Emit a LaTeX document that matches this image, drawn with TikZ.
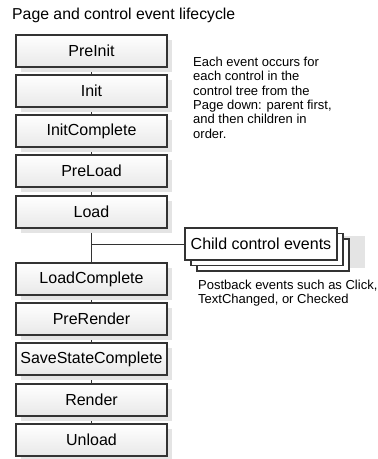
\documentclass[tikz,border=0pt]{standalone}
\usepackage{fontspec}
\setmainfont{Liberation Sans}
\usetikzlibrary{positioning,shadows,backgrounds}

\definecolor{boxline}{HTML}{333333}
\definecolor{shadowgray}{HTML}{E4E4E4}

\begin{document}
\begin{tikzpicture}[x=1pt,y=-1pt,
    evbox/.style={draw=boxline, line width=1.1pt, top color=white, bottom color=gray!18,
        minimum width=151pt, minimum height=32pt, inner sep=0pt, outer sep=0pt,
        font=\fontsize{16}{18}\selectfont,
        drop shadow={shadow xshift=5pt, shadow yshift=-5pt, fill=shadowgray, opacity=1}},
    childbox/.style={draw=boxline, line width=1.1pt, fill=white,
        minimum width=152pt, minimum height=32pt, inner sep=0pt, outer sep=0pt,
        font=\fontsize{16}{18}\selectfont,
        drop shadow={shadow xshift=28pt, shadow yshift=-8pt, fill=shadowgray, opacity=1},
        copy shadow={shadow xshift=12pt, shadow yshift=-11pt, fill=white, draw=boxline, line width=1.1pt},
        copy shadow={shadow xshift=6pt, shadow yshift=-5.5pt, fill=white, draw=boxline, line width=1.1pt}},
    link/.style={draw=boxline, line width=0.9pt},
    note/.style={align=left, inner sep=0pt, anchor=north west, font=\fontsize{13}{14.3}\selectfont}]

    \useasboundingbox (0,0) rectangle (378,459);

    % Title
    \node[anchor=base west, inner sep=0pt, font=\fontsize{15.8}{18}\selectfont] (title) at (12,19.5) {Page and control event lifecycle};

    % Page events
    \node[evbox] (preinit) at (91.5,51) {PreInit};
    \node[evbox, below=8pt of preinit] (init) {Init};
    \node[evbox, below=8pt of init] (initcomplete) {InitComplete};
    \node[evbox, below=8pt of initcomplete] (preload) {PreLoad};
    \node[evbox, below=9pt of preload] (load) {Load};
    \node[evbox, below=35pt of load] (loadcomplete) {LoadComplete};
    \node[evbox, below=8pt of loadcomplete] (prerender) {PreRender};
    \node[evbox, below=8pt of prerender] (savestate) {SaveStateComplete};
    \node[evbox, below=9pt of savestate] (render) {Render};
    \node[evbox, below=8pt of render] (unload) {Unload};

    % Child controls
    \node[childbox] (child) at (261,244) {Child control events};

    % Notes
    \node[note] (pagenote) at (193,57) {Each event occurs for\\each control in the\\control tree from the\\Page down: parent first,\\and then children in\\order.};
    \node[note] (postnote) at (198,280) {Postback events such as Click,\\TextChanged, or Checked};

    % Connectors
    \begin{scope}[on background layer]
        \draw[link] (preinit) -- (init);
        \draw[link] (init) -- (initcomplete);
        \draw[link] (initcomplete) -- (preload);
        \draw[link] (preload) -- (load);
        \draw[link] (load) -- (loadcomplete);
        \draw[link] (loadcomplete) -- (prerender);
        \draw[link] (prerender) -- (savestate);
        \draw[link] (savestate) -- (render);
        \draw[link] (render) -- (unload);
        \coordinate (branch) at (load.south |- child.west);
        \draw[link] (branch) -- (child.west);
    \end{scope}
\end{tikzpicture}
\end{document}
